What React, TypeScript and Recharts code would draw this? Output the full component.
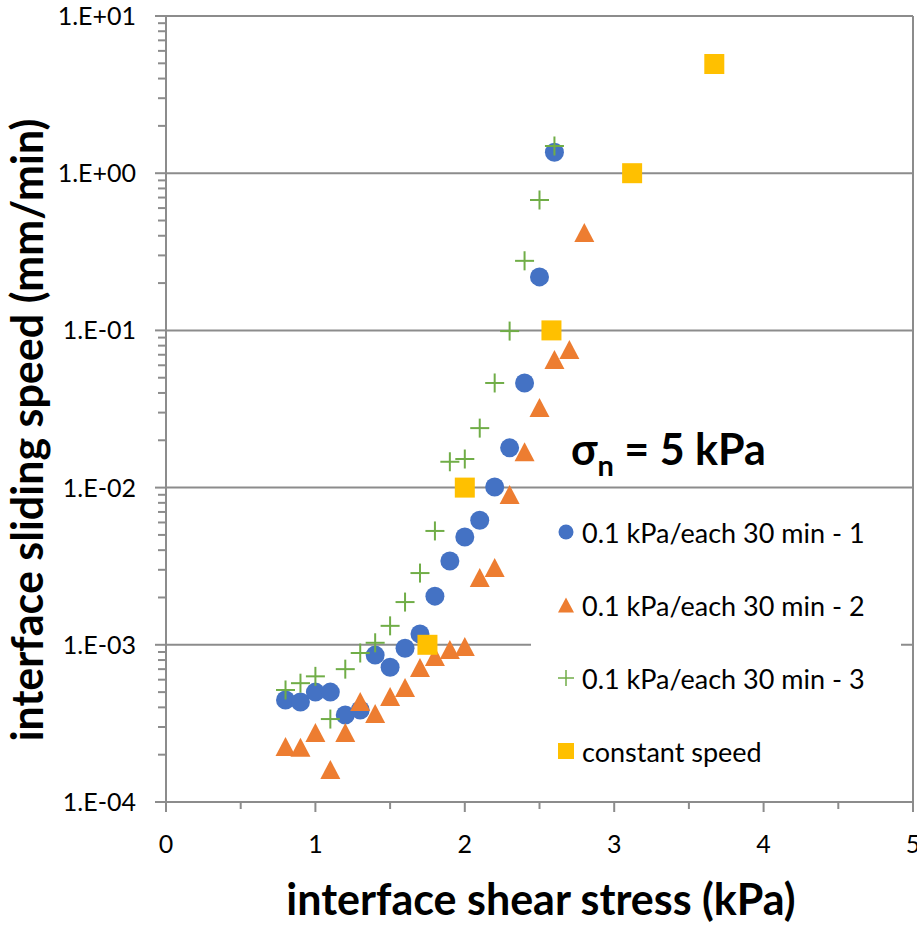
import React from "react";
import {
    ScatterChart,
    Scatter,
    XAxis,
    YAxis,
    CartesianGrid,
} from "recharts";

// shear stress steps (kPa)
const stressRun1 = [0.8, 0.9, 1.0, 1.1, 1.2, 1.3, 1.4, 1.5, 1.6, 1.7, 1.8, 1.9, 2.0, 2.1, 2.2, 2.3, 2.4, 2.5, 2.6];
const stressRun2 = [0.8, 0.9, 1.0, 1.1, 1.2, 1.3, 1.4, 1.5, 1.6, 1.7, 1.8, 1.9, 2.0, 2.1, 2.2, 2.3, 2.4, 2.5, 2.6, 2.7, 2.8];
const stressRun3 = [0.8, 0.9, 1.0, 1.1, 1.2, 1.3, 1.4, 1.5, 1.6, 1.7, 1.8, 1.9, 2.0, 2.1, 2.2, 2.3, 2.4, 2.5, 2.6];
const stressConst = [1.75, 2.0, 2.58, 3.12, 3.67];

// sliding speed (mm/min)
const speedRun1 = [4.46e-4, 4.33e-4, 5.0e-4, 5.0e-4, 3.58e-4, 3.85e-4, 8.6e-4, 7.2e-4, 9.5e-4, 1.17e-3, 2.04e-3, 3.41e-3, 4.85e-3, 6.2e-3, 1.01e-2, 1.79e-2, 4.63e-2, 0.219, 1.36];
const speedRun2 = [2.24e-4, 2.21e-4, 2.75e-4, 1.6e-4, 2.75e-4, 4.33e-4, 3.63e-4, 4.66e-4, 5.31e-4, 7.12e-4, 8.36e-4, 9.27e-4, 9.68e-4, 2.66e-3, 3.08e-3, 8.97e-3, 1.68e-2, 3.21e-2, 6.48e-2, 7.5e-2, 0.417];
const speedRun3 = [5.16e-4, 5.7e-4, 6.3e-4, 3.37e-4, 7.0e-4, 8.87e-4, 1.03e-3, 1.32e-3, 1.87e-3, 2.86e-3, 5.3e-3, 1.46e-2, 1.52e-2, 2.39e-2, 4.63e-2, 9.9e-2, 0.277, 0.676, 1.49];
const speedConst = [1e-3, 1e-2, 0.1, 1.0, 4.95];

// axis ticks
const xTicks = [0, 0.5, 1, 1.5, 2, 2.5, 3, 3.5, 4, 4.5, 5];
const decades = [1e-4, 1e-3, 1e-2, 1e-1, 1, 10];
const minorSteps = [1, 2, 3, 4, 5, 6, 7, 8, 9];
const yTicks = decades.slice(0, -1).flatMap((d) => minorSteps.map((m) => m * d)).concat([10]);

const toPoints = (xs: number[], ys: number[]) => xs.map((x, i) => ({ x, y: ys[i] }));

const BLUE = "#4472C4";
const ORANGE = "#ED7D31";
const GREEN = "#70AD47";
const GOLD = "#FFC000";
const GRID = "#8c8c8c";
const FONT = "Lato, 'Open Sans', sans-serif";

const Circle = (p: any) => <circle cx={p.cx} cy={p.cy} r={9.5} fill={BLUE} />;
const Triangle = (p: any) => (
    <polygon
        points={`${p.cx},${p.cy - 10} ${p.cx + 10},${p.cy + 9} ${p.cx - 10},${p.cy + 9}`}
        fill={ORANGE}
    />
);
const Plus = (p: any) => (
    <g stroke={GREEN} strokeWidth={2}>
        <line x1={p.cx - 9.5} y1={p.cy} x2={p.cx + 9.5} y2={p.cy} />
        <line x1={p.cx} y1={p.cy - 9.5} x2={p.cx} y2={p.cy + 9.5} />
    </g>
);
const Square = (p: any) => <rect x={p.cx - 10} y={p.cy - 10} width={20} height={20} fill={GOLD} />;

const isDecade = (v: number) => {
    const l = Math.log10(v);
    return Math.abs(l - Math.round(l)) < 1e-9;
};

const sciLabel = (v: number) => {
    const e = Math.round(Math.log10(v));
    return `1.E${e < 0 ? "-" : "+"}${String(Math.abs(e)).padStart(2, "0")}`;
};

const YTick = ({ x, y, payload }: any) => {
    const v = payload.value;
    const major = isDecade(v);
    return (
        <g>
            <line x1={x - (major ? 11 : 8)} y1={y} x2={x} y2={y} stroke={GRID} strokeWidth={2} />
            {major && (
                <text x={x - 30} y={y} dy={9} textAnchor="end" fontSize={25} fontFamily={FONT} fill="#000">
                    {sciLabel(v)}
                </text>
            )}
        </g>
    );
};

const XTick = ({ x, y, payload }: any) => {
    const v = payload.value;
    const major = Number.isInteger(v);
    return (
        <g>
            <line x1={x} y1={y} x2={x} y2={y + (major ? 10 : 7)} stroke={GRID} strokeWidth={2} />
            {major && (
                <text x={x} y={y + 51} textAnchor="middle" fontSize={25} fontFamily={FONT} fill="#000">
                    {v}
                </text>
            )}
        </g>
    );
};

const legendItems = [
    { name: "0.1 kPa/each 30 min - 1", marker: <circle cx={8} cy={8} r={7.5} fill={BLUE} /> },
    { name: "0.1 kPa/each 30 min - 2", marker: <polygon points="8,0.5 16,15.5 0,15.5" fill={ORANGE} /> },
    {
        name: "0.1 kPa/each 30 min - 3",
        marker: (
            <g stroke={GREEN} strokeWidth={1.5}>
                <line x1={0} y1={8} x2={16} y2={8} />
                <line x1={8} y1={0} x2={8} y2={16} />
            </g>
        ),
    },
    { name: "constant speed", marker: <rect x={0} y={0} width={16} height={16} fill={GOLD} /> },
];

export default function App() {
    return (
        <div style={{ position: "absolute", left: 0, top: 0, width: 917, height: 925, background: "#fff", fontFamily: FONT, overflow: "hidden" }}>
            <ScatterChart width={917} height={925} margin={{ top: 16, right: 4, left: 0, bottom: 0 }}>
                <CartesianGrid
                    stroke={GRID}
                    strokeWidth={2}
                    horizontalValues={decades}
                    verticalValues={[5]}
                />
                <XAxis
                    type="number"
                    dataKey="x"
                    domain={[0, 5]}
                    ticks={xTicks}
                    interval={0}
                    height={123}
                    tickSize={0}
                    tickMargin={0}
                    tickLine={false}
                    tick={<XTick />}
                    axisLine={{ stroke: GRID, strokeWidth: 2 }}
                />
                <YAxis
                    type="number"
                    dataKey="y"
                    scale="log"
                    domain={[1e-4, 10]}
                    allowDataOverflow
                    ticks={yTicks}
                    interval={0}
                    width={166}
                    tickSize={0}
                    tickMargin={0}
                    tickLine={false}
                    tick={<YTick />}
                    axisLine={{ stroke: GRID, strokeWidth: 2 }}
                />
                <Scatter name="0.1 kPa/each 30 min - 1" data={toPoints(stressRun1, speedRun1)} shape={Circle} isAnimationActive={false} />
                <Scatter name="0.1 kPa/each 30 min - 2" data={toPoints(stressRun2, speedRun2)} shape={Triangle} isAnimationActive={false} />
                <Scatter name="0.1 kPa/each 30 min - 3" data={toPoints(stressRun3, speedRun3)} shape={Plus} isAnimationActive={false} />
                <Scatter name="constant speed" data={toPoints(stressConst, speedConst)} shape={Square} isAnimationActive={false} />
            </ScatterChart>

            {/* axis titles */}
            <div
                style={{
                    position: "absolute",
                    left: 541,
                    top: 899,
                    transform: "translate(-50%, -50%)",
                    fontSize: 43,
                    lineHeight: "44px",
                    fontWeight: 700,
                    whiteSpace: "nowrap",
                }}
            >
                interface shear stress (kPa)
            </div>
            <div
                style={{
                    position: "absolute",
                    left: 27,
                    top: 430,
                    transform: "translate(-50%, -50%) rotate(-90deg)",
                    fontSize: 43,
                    lineHeight: "44px",
                    fontWeight: 700,
                    whiteSpace: "nowrap",
                }}
            >
                interface sliding speed (mm/min)
            </div>

            {/* normal stress note */}
            <div style={{ position: "absolute", left: 571, top: 424, fontSize: 43, fontWeight: 700, lineHeight: "50px", whiteSpace: "nowrap" }}>
                σ<sub style={{ fontSize: 29, verticalAlign: "-11px" }}>n</sub> = 5 kPa
            </div>

            {/* legend */}
            <div style={{ position: "absolute", left: 531, top: 491, width: 370, height: 309, background: "#fff" }}>
                {legendItems.map((item, i) => (
                    <div
                        key={item.name}
                        style={{
                            position: "absolute",
                            left: 27,
                            top: 41 + i * 73 - 17,
                            height: 34,
                            display: "flex",
                            alignItems: "center",
                            fontSize: 27,
                            whiteSpace: "nowrap",
                        }}
                    >
                        <svg width={16} height={16} style={{ marginRight: 8 }}>
                            {item.marker}
                        </svg>
                        {item.name}
                    </div>
                ))}
            </div>
        </div>
    );
}
